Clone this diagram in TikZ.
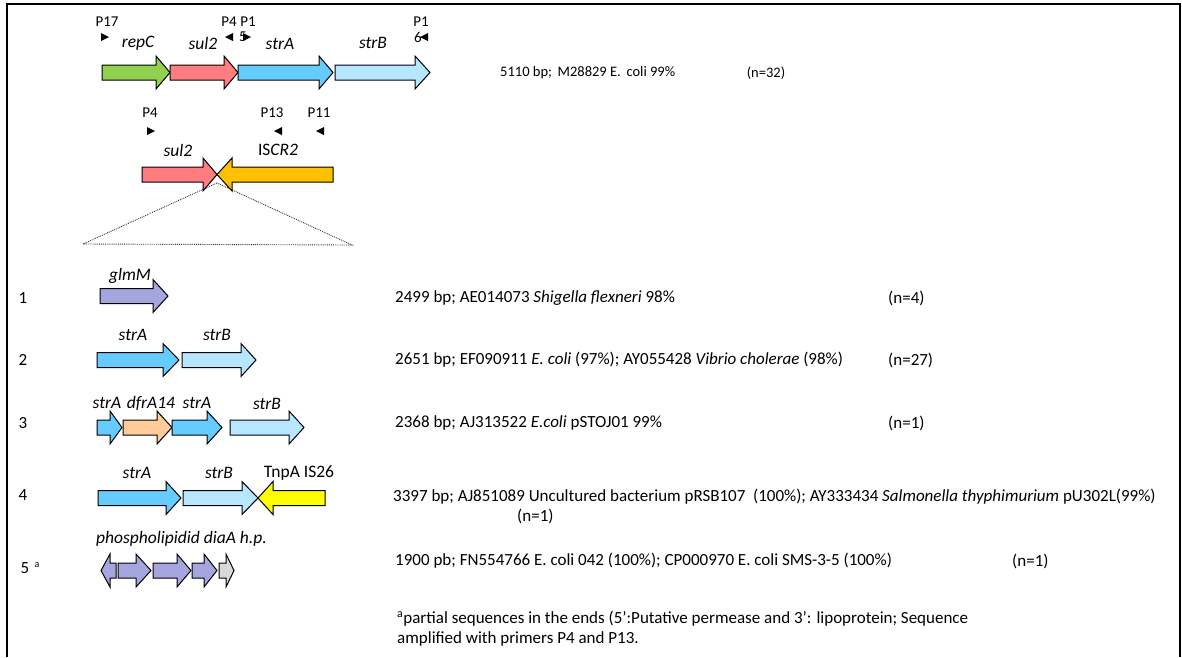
\documentclass[tikz,border=0pt]{standalone}
\usepackage{fontspec}
\setmainfont{Carlito}
\usepackage{tikz}
\pgfdeclarelayer{bg}
\pgfsetlayers{bg,main}

\definecolor{repCgreen}{HTML}{92D050}
\definecolor{sulred}{HTML}{FF7C80}
\definecolor{strAblue}{HTML}{66CCFF}
\definecolor{strBblue}{HTML}{B7E6FF}
\definecolor{iscrorange}{HTML}{FFC000}
\definecolor{glmlilac}{HTML}{A5A5E0}
\definecolor{dfrpeach}{HTML}{FFCC99}
\definecolor{tnpyellow}{HTML}{FFFF00}
\definecolor{hpgray}{HTML}{D9D9D9}

\tikzset{
  genebox/.style={draw=black, line width=1pt, line join=miter},
  genelabel/.style={font=\fontsize{17.5}{20}\selectfont\itshape, inner sep=0pt},
  primerlabel/.style={font=\fontsize{15}{16}\selectfont, inner sep=0pt},
  desc/.style={font=\fontsize{17}{20}\selectfont, anchor=west, inner sep=0pt},
  rownum/.style={font=\fontsize{17}{20}\selectfont, inner sep=0pt},
}
% gene arrow: style, x start, x head, x tip, y centre
\newcommand{\gene}[5]{%
  \draw[genebox,#1] (#2,#5-7.5) -- (#3,#5-7.5) -- (#3,#5-16.5) -- (#4,#5)
    -- (#3,#5+16.5) -- (#3,#5+7.5) -- (#2,#5+7.5) -- cycle;}
% primer triangles
\newcommand{\primR}[2]{\fill (#1-4,#2-4) -- (#1+4,#2) -- (#1-4,#2+4) -- cycle;}
\newcommand{\primL}[2]{\fill (#1+4,#2-4) -- (#1-4,#2) -- (#1+4,#2+4) -- cycle;}

\begin{document}
\begin{tikzpicture}[x=1pt, y=-1pt]
        \useasboundingbox (0,0) rectangle (1182,657);
        \draw[line width=2.5pt] (7,657) -- (7,4) -- (1180,4) -- (1180,657);

        % top: repC sul2 strA strB
        \gene{fill=repCgreen}{102}{156}{170}{72.5}
        \gene{fill=sulred}{170}{224}{238}{72.5}
        \gene{fill=strAblue}{238}{319}{333}{72.5}
        \gene{fill=strBblue}{335}{415}{430}{72.5}
        \node (p17) [primerlabel] at (107, 22) {P17};
        \node (p4t) [primerlabel] at (229, 22) {P4};
        \node (p1t) [primerlabel] at (248, 22) {P1};
        \node (p16) [primerlabel] at (421, 22) {P1};
        \primR{105}{37}
        \primL{229}{37}
        \node (p5w) [primerlabel] at (243, 37) {5};
        \primR{247}{37}
        \node (p6w) [primerlabel] at (418, 37) {6};
        \primL{424}{37}
        \node (repC) [genelabel] at (138, 43) {repC};
        \node (sulA) [genelabel] at (203, 43) {sul2};
        \node (strAt) [genelabel] at (280, 44) {strA};
        \node (strBt) [genelabel] at (373, 43) {strB};
        \node (d0) [desc, font=\fontsize{14.5}{17}\selectfont] at (500, 73) {5110 bp;\, M28829 E.\, coli 99\%};
        \node (n0) [desc, anchor=center, font=\fontsize{14.5}{17}\selectfont] at (766, 73) {(n=32)};

        % sul2 - ISCR2
        \gene{fill=sulred}{142}{203}{217}{174.5}
        \gene{fill=iscrorange}{333}{232}{217}{174.5}
        \node (p4b) [primerlabel] at (150, 113) {P4};
        \node (p13) [primerlabel] at (272, 113) {P13};
        \node (p11) [primerlabel] at (319, 113) {P11};
        \primR{151}{131}
        \primL{278}{131}
        \primL{320}{131}
        \node (sulB) [genelabel] at (178, 150) {sul2};
        \node (iscr) [genelabel, font=\fontsize{17.5}{20}\selectfont] at (278, 150) {IS\textit{CR2}};
        \coordinate (cross) at (217, 183);
        \coordinate (zl) at (83, 244);
        \coordinate (zr) at (352, 245);
        \begin{pgfonlayer}{bg}
                \draw[densely dotted, line width=0.9pt, black!80] (cross) -- (zl) -- (zr) -- cycle;
        \end{pgfonlayer}

        % 1
        \node (r1) [rownum] at (23, 298) {1};
        \gene{fill=glmlilac}{100}{153}{168}{296}
        \node (glmM) [genelabel] at (130, 276) {glmM};
        \node (d1) [desc] at (395, 298) {2499 bp; AE014073 \textit{Shigella flexneri} 98\%};
        \node (n1) [desc] at (888, 298) {(n=4)};

        % 2
        \node (r2) [rownum] at (23, 360) {2};
        \gene{fill=strAblue}{97}{163}{179}{360}
        \gene{fill=strBblue}{182}{241}{256}{360}
        \node (strA2) [genelabel] at (133, 335) {strA};
        \node (strB2) [genelabel] at (217, 335) {strB};
        \node (d2) [desc] at (395, 360) {2651 bp; EF090911 \textit{E. coli} (97\%); AY055428 \textit{Vibrio cholerae} (98\%)};
        \node (n2) [desc] at (888, 360) {(n=27)};

        % 3
        \node (r3) [rownum] at (23, 423) {3};
        \gene{fill=strAblue}{97}{110}{122}{427.5}
        \gene{fill=dfrpeach}{123}{157}{172}{427.5}
        \gene{fill=strAblue}{172}{207}{222}{427.5}
        \gene{fill=strBblue}{230}{289}{304}{427.5}
        \node (strA3a) [genelabel] at (107, 403) {strA};
        \node (dfr) [genelabel] at (151, 403) {dfrA14};
        \node (strA3b) [genelabel] at (197, 403) {strA};
        \node (strB3) [genelabel] at (267, 404) {strB};
        \node (d3) [desc] at (395, 423) {2368 bp; AJ313522 \textit{E.coli} pSTOJ01 99\%};
        \node (n3) [desc] at (888, 423) {(n=1)};

        % 4
        \node (r4) [rownum] at (23, 495) {4};
        \gene{fill=strAblue}{98}{166}{181}{498}
        \gene{fill=strBblue}{183}{242}{258}{498}
        \gene{fill=tnpyellow}{325}{273}{258}{498}
        \node (strA4) [genelabel] at (137, 473) {strA};
        \node (strB4) [genelabel] at (219, 473) {strB};
        \node (tnpA) [genelabel, font=\fontsize{17.5}{20}\selectfont] at (299, 473) {TnpA IS26};
        \node (d4) [desc] at (393, 497) {3397 bp; AJ851089 Uncultured bacterium pRSB107\ \ (100\%); AY333434 \textit{Salmonella thyphimurium} pU302L(99\%)};
        \node (n4) [desc] at (517, 516) {(n=1)};

        % 5
        \node (r5) [rownum] at (25, 568) {5};
        \node (r5a) [rownum, font=\fontsize{10}{11}\selectfont] at (37, 565) {a};
        \gene{fill=glmlilac}{116}{110}{101}{570.5}
        \gene{fill=glmlilac}{118}{136}{151}{570.5}
        \gene{fill=glmlilac}{153}{177}{191}{570.5}
        \gene{fill=glmlilac}{192}{204}{217}{570.5}
        \gene{fill=hpgray}{219}{226}{234}{570.5}
        \node (phos) [genelabel, anchor=west] at (96, 539) {phospholipidid diaA h.p.};
        \node (d5) [desc] at (395, 561) {1900 pb; FN554766 E. coli 042 (100\%); CP000970 E. coli SMS-3-5 (100\%)};
        \node (n5) [desc] at (1012, 561) {(n=1)};

        % footnote
        \node (note) [desc, anchor=north west, align=left] at (397, 611)
          {\textsuperscript{a}partial sequences in the ends (5’:Putative permease and 3’: lipoprotein; Sequence\\
           amplified with primers P4 and P13.};
\end{tikzpicture}
\end{document}
